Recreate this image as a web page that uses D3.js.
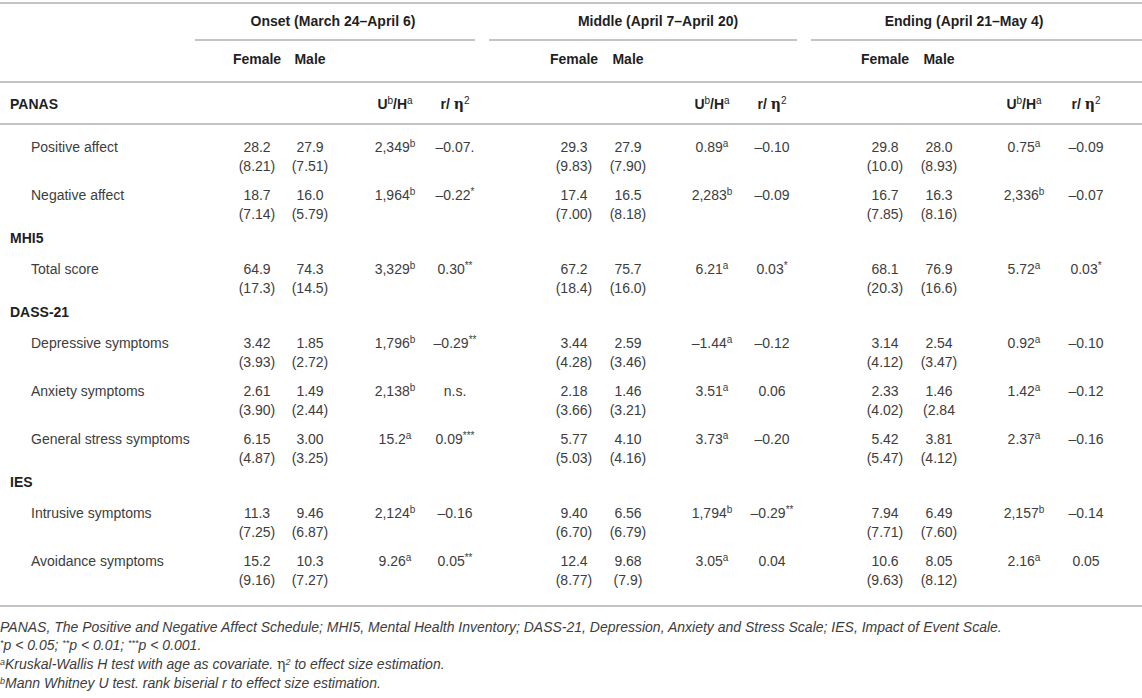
<!DOCTYPE html>
<html>
<head>
<meta charset="utf-8">
<script src="https://cdn.jsdelivr.net/npm/d3@7"></script>
<style>
  html, body { margin: 0; padding: 0; background: #fff; }
  svg { display: block; font-family: "Liberation Sans", Arial, sans-serif; }
</style>
</head>
<body>
<div id="table"></div>
<script>
// Table contents
const periods = ['Onset (March 24–April 6)', 'Middle (April 7–April 20)', 'Ending (April 21–May 4)'];
const sexes = ['Female', 'Male'];
const scaleNames = ['PANAS', 'MHI5', 'DASS-21', 'IES'];
const measures = [
    ['Positive affect', 'Negative affect'],
    ['Total score'],
    ['Depressive symptoms', 'Anxiety symptoms', 'General stress symptoms'],
    ['Intrusive symptoms', 'Avoidance symptoms']
];

// one row per measure, one entry per period
const femaleMean = [
    ['28.2', '29.3', '29.8'],
    ['18.7', '17.4', '16.7'],
    ['64.9', '67.2', '68.1'],
    ['3.42', '3.44', '3.14'],
    ['2.61', '2.18', '2.33'],
    ['6.15', '5.77', '5.42'],
    ['11.3', '9.40', '7.94'],
    ['15.2', '12.4', '10.6']
];
const femaleSD = [
    ['(8.21)', '(9.83)', '(10.0)'],
    ['(7.14)', '(7.00)', '(7.85)'],
    ['(17.3)', '(18.4)', '(20.3)'],
    ['(3.93)', '(4.28)', '(4.12)'],
    ['(3.90)', '(3.66)', '(4.02)'],
    ['(4.87)', '(5.03)', '(5.47)'],
    ['(7.25)', '(6.70)', '(7.71)'],
    ['(9.16)', '(8.77)', '(9.63)']
];
const maleMean = [
    ['27.9', '27.9', '28.0'],
    ['16.0', '16.5', '16.3'],
    ['74.3', '75.7', '76.9'],
    ['1.85', '2.59', '2.54'],
    ['1.49', '1.46', '1.46'],
    ['3.00', '4.10', '3.81'],
    ['9.46', '6.56', '6.49'],
    ['10.3', '9.68', '8.05']
];
const maleSD = [
    ['(7.51)', '(7.90)', '(8.93)'],
    ['(5.79)', '(8.18)', '(8.16)'],
    ['(14.5)', '(16.0)', '(16.6)'],
    ['(2.72)', '(3.46)', '(3.47)'],
    ['(2.44)', '(3.21)', '(2.84'],
    ['(3.25)', '(4.16)', '(4.12)'],
    ['(6.87)', '(6.79)', '(7.60)'],
    ['(7.27)', '(7.9)', '(8.12)']
];
const testValue = [
    ['2,349', '0.89', '0.75'],
    ['1,964', '2,283', '2,336'],
    ['3,329', '6.21', '5.72'],
    ['1,796', '–1.44', '0.92'],
    ['2,138', '3.51', '1.42'],
    ['15.2', '3.73', '2.37'],
    ['2,124', '1,794', '2,157'],
    ['9.26', '3.05', '2.16']
];
const testType = [
    ['b', 'a', 'a'],
    ['b', 'b', 'b'],
    ['b', 'a', 'a'],
    ['b', 'a', 'a'],
    ['b', 'a', 'a'],
    ['a', 'a', 'a'],
    ['b', 'b', 'b'],
    ['a', 'a', 'a']
];
const effectValue = [
    ['–0.07.', '–0.10', '–0.09'],
    ['–0.22', '–0.09', '–0.07'],
    ['0.30', '0.03', '0.03'],
    ['–0.29', '–0.12', '–0.10'],
    ['n.s.', '0.06', '–0.12'],
    ['0.09', '–0.20', '–0.16'],
    ['–0.16', '–0.29', '–0.14'],
    ['0.05', '0.04', '0.05']
];
const effectStars = [
    ['', '', ''],
    ['*', '', ''],
    ['**', '*', '*'],
    ['**', '', ''],
    ['', '', ''],
    ['***', '', ''],
    ['', '**', ''],
    ['**', '', '']
];
const footnotes = [
    [{ t: 'PANAS, The Positive and Negative Affect Schedule; MHI5, Mental Health Inventory; DASS-21, Depression, Anxiety and Stress Scale; IES, Impact of Event Scale.' }],
    [{ t: '*', sup: true }, { t: 'p < 0.05; ' }, { t: '**', sup: true }, { t: 'p < 0.01; ' }, { t: '***', sup: true }, { t: 'p < 0.001.' }],
    [{ t: 'a', sup: true }, { t: 'Kruskal-Wallis H test with age as covariate. ' }, { t: 'η', eta: true }, { t: '2', sup: true }, { t: ' to effect size estimation.' }],
    [{ t: 'b', sup: true }, { t: 'Mann Whitney U test. rank biserial r to effect size estimation.' }]
];

// Layout
const width = 1142, height = 698;
const colKeys = ['f', 'm', 'u', 'r'];
const x = d3.scaleOrdinal()
    .domain(periods.flatMap((p, i) => colKeys.map(k => k + i)))
    .range([257, 310, 395, 455, 574, 628, 712, 772, 885, 939, 1024, 1086]);
const groupCenter = d3.scaleOrdinal().domain(periods).range([333, 658, 964]);
const groupRule = d3.scaleOrdinal().domain(periods).range([[195, 475], [489, 797], [811, 1142]]);

const textColor = '#3d3d3d';
const headColor = '#1f1f1f';
const ruleColor = '#c4c4c4';
const fontSize = 14;

const svg = d3.select('#table').append('svg')
    .attr('width', width)
    .attr('height', height);

// text with optional superscript parts; y is the visual middle of the line
function richText(g, parts, attrs) {
    const size = attrs.size || fontSize;
    const supSize = attrs.supSize || 10;
    const lift = attrs.lift || 5;
    const t = g.append('text')
        .attr('x', attrs.x)
        .attr('y', attrs.y + size * 0.35)
        .attr('text-anchor', attrs.anchor || 'middle')
        .attr('font-size', size)
        .attr('font-weight', attrs.weight || 'normal')
        .attr('font-style', attrs.italic ? 'italic' : 'normal')
        .attr('fill', attrs.color || textColor);
    let lifted = false;
    parts.forEach(p => {
        const s = t.append('tspan').text(p.t);
        if (p.sup) {
            s.attr('font-size', supSize).attr('dy', lifted ? 0 : -lift).attr('font-weight', 'normal');
            lifted = true;
        } else {
            if (lifted) s.attr('dy', lift);
            lifted = false;
        }
        if (p.eta) s.attr('font-family', '"DejaVu Serif", serif').attr('font-style', 'normal');
    });
    return t;
}

function rule(y, x1, x2) {
    svg.append('line')
        .attr('x1', x1).attr('x2', x2)
        .attr('y1', y).attr('y2', y)
        .attr('stroke', ruleColor)
        .attr('stroke-width', 2);
}

// header
rule(3, 0, width);
periods.forEach((p, i) => {
    richText(svg, [{ t: p }], { x: groupCenter(p), y: 21, weight: 'bold', color: headColor });
    const [a, b] = groupRule(p);
    rule(40, a, b);
    sexes.forEach((s, j) => {
        richText(svg, [{ t: s }], { x: x(colKeys[j] + i), y: 59, weight: 'bold', color: headColor });
    });
    richText(svg, [{ t: 'U' }, { t: 'b', sup: true }, { t: '/H' }, { t: 'a', sup: true }],
        { x: x('u' + i), y: 104, weight: 'bold', color: headColor });
    richText(svg, [{ t: 'r/ ' }, { t: 'η', eta: true }, { t: '2', sup: true }],
        { x: x('r' + i), y: 104, weight: 'bold', color: headColor });
});
rule(82, 0, width);

// body
let cursor = 124;
let row = 0;
scaleNames.forEach((name, si) => {
    if (si === 0) {
        richText(svg, [{ t: name }], { x: 10, y: 104, anchor: 'start', weight: 'bold', color: headColor });
        rule(124, 0, width);
    } else {
        richText(svg, [{ t: name }], { x: 10, y: cursor + 18, anchor: 'start', weight: 'bold', color: headColor });
        cursor += 26;
    }
    measures[si].forEach(m => {
        const y = cursor + 23;
        const g = svg.append('g');
        richText(g, [{ t: m }], { x: 31, y: y, anchor: 'start' });
        periods.forEach((p, i) => {
            richText(g, [{ t: femaleMean[row][i] }], { x: x('f' + i), y: y });
            richText(g, [{ t: femaleSD[row][i] }], { x: x('f' + i), y: y + 19 });
            richText(g, [{ t: maleMean[row][i] }], { x: x('m' + i), y: y });
            richText(g, [{ t: maleSD[row][i] }], { x: x('m' + i), y: y + 19 });
            richText(g, [{ t: testValue[row][i] }, { t: testType[row][i], sup: true }], { x: x('u' + i), y: y });
            const eff = [{ t: effectValue[row][i] }];
            if (effectStars[row][i]) eff.push({ t: effectStars[row][i], sup: true });
            richText(g, eff, { x: x('r' + i), y: y });
        });
        cursor += 48;
        row++;
    });
});
rule(cursor + 20, 0, width);

// footnotes
const noteY = [627, 645, 664, 683];
footnotes.forEach((parts, i) => {
    richText(svg, parts, { x: 0, y: noteY[i], anchor: 'start', italic: true, size: 14, supSize: 9, lift: 4 });
});
</script>
</body>
</html>
